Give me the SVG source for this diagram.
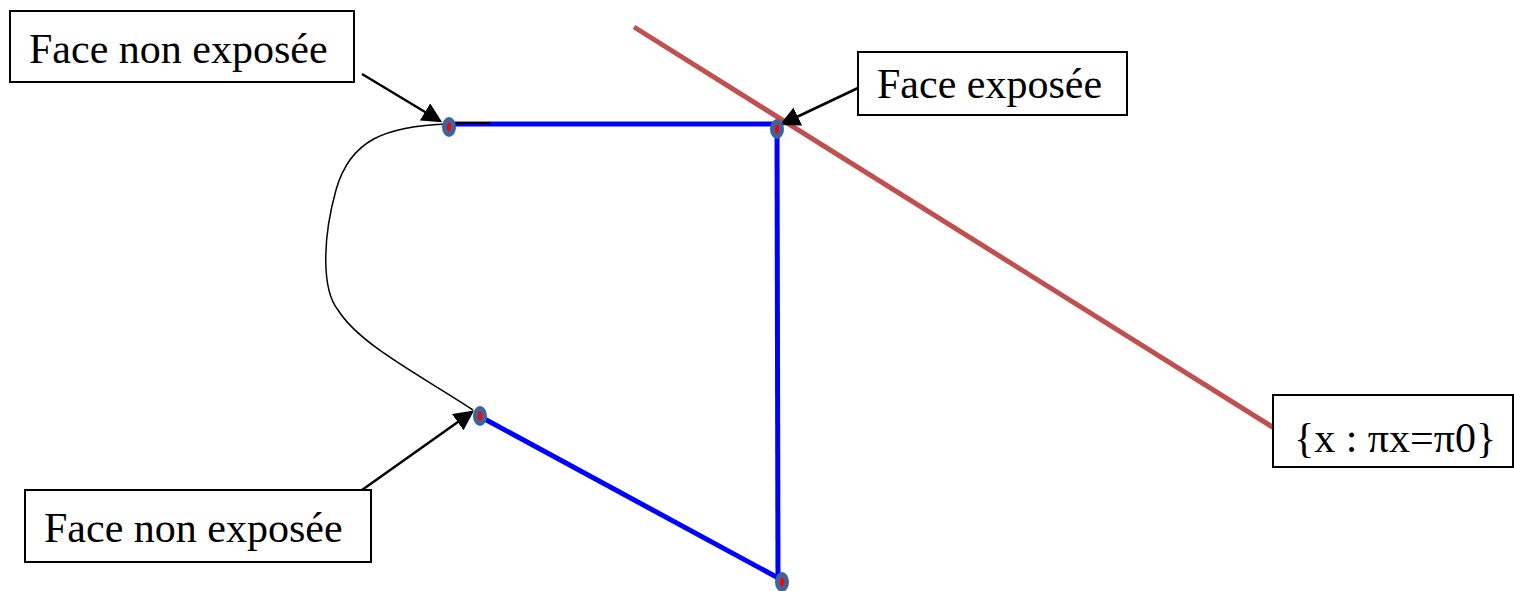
<svg xmlns="http://www.w3.org/2000/svg" width="1514" height="591" viewBox="0 0 1514 591">
<style>
.box{fill:#fff;stroke:#000;stroke-width:2}
.lbl{font-family:"Liberation Serif","Times New Roman",serif;font-size:42px;fill:#000}
.blue{stroke:#0000ff;stroke-width:5;fill:none}
.arr{stroke:#000;stroke-width:2.5;fill:none;marker-end:url(#ah)}
.dot{fill:#3f6499}
.dotc{fill:#ff0000}
</style>
<defs>
<marker id="ah" markerWidth="8" markerHeight="8" refX="7" refY="4" orient="auto" markerUnits="strokeWidth">
<path d="M0,0 L8,4 L0,8 Z" fill="#000"/>
</marker>
</defs>
<rect width="1514" height="591" fill="#fff"/>
<g id="plane">
<line x1="634" y1="27" x2="1274" y2="428" stroke="#c0504d" stroke-width="5"/>
</g>
<g id="polygon">
<line class="blue" x1="449" y1="124" x2="777" y2="124"/>
<line class="blue" x1="777" y1="124" x2="778" y2="580"/>
<line class="blue" x1="479" y1="416" x2="782" y2="580"/>
</g>
<g id="connectors">
<path d="M449,124 C385,126 350,140 336,190 C322,240 322,290 338,310 C360,345 420,375 473,410" fill="none" stroke="#000" stroke-width="1.5"/>
<line x1="449" y1="123" x2="490" y2="123" stroke="#000" stroke-width="2"/>
<path class="arr" d="M362,74 L440,121"/>
<path class="arr" d="M858,88 L782,124"/>
<path class="arr" d="M362,490 L472,412"/>
</g>
<g id="dots">
<ellipse class="dot" cx="449" cy="127" rx="7" ry="10"/><ellipse class="dotc" cx="449" cy="127" rx="2" ry="4.5"/>
<ellipse class="dot" cx="777" cy="129" rx="7" ry="10"/><ellipse class="dotc" cx="777" cy="129" rx="2" ry="4.5"/>
<ellipse class="dot" cx="480" cy="416" rx="7" ry="10"/><ellipse class="dotc" cx="480" cy="416" rx="2" ry="4.5"/>
<ellipse class="dot" cx="782" cy="582" rx="7" ry="10"/><ellipse class="dotc" cx="782" cy="582" rx="2" ry="4.5"/>
</g>
<g id="label-top">
<rect class="box" x="10" y="11" width="344" height="71"/>
<text class="lbl" x="29" y="63">Face non exposée</text>
</g>
<g id="label-bottom">
<rect class="box" x="25" y="490" width="346" height="72"/>
<text class="lbl" x="44" y="542">Face non exposée</text>
</g>
<g id="label-exposed">
<rect class="box" x="858" y="52" width="269" height="63"/>
<text class="lbl" x="877" y="98">Face exposée</text>
</g>
<g id="label-plane">
<rect class="box" x="1273" y="395" width="240" height="72"/>
<text class="lbl" x="1294" y="452">{x : πx=π0}</text>
</g>
</svg>
